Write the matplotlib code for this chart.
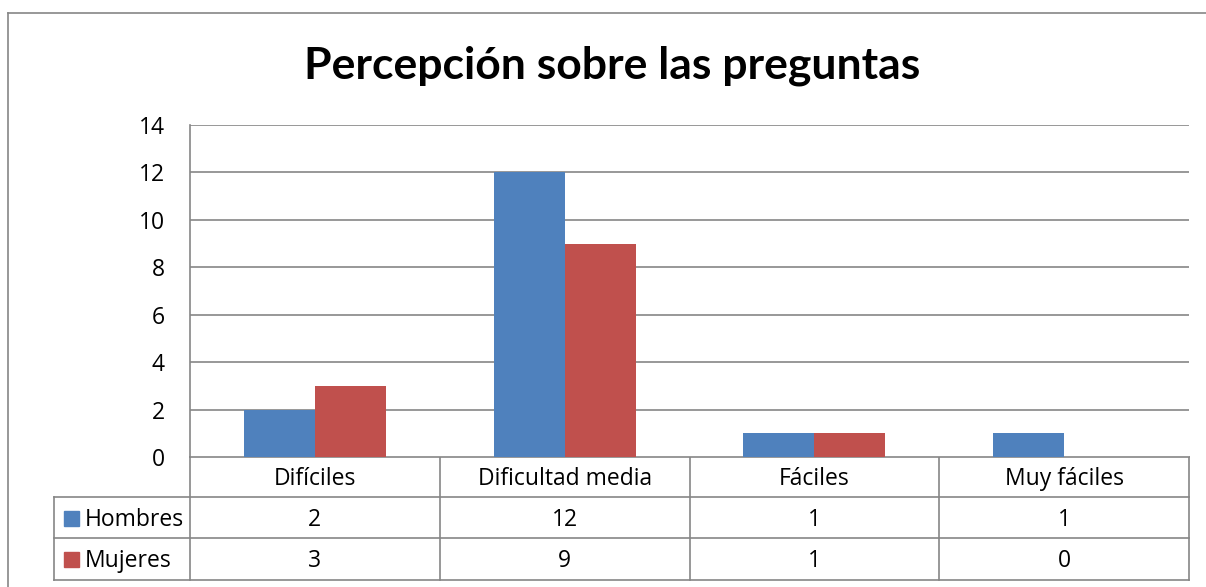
import matplotlib
matplotlib.use("Agg")
import matplotlib.pyplot as plt
from matplotlib.patches import Rectangle
import numpy as np

categories = ["Difíciles", "Dificultad media", "Fáciles", "Muy fáciles"]
series_names = ["Hombres", "Mujeres"]
hombres = [2, 12, 1, 1]
mujeres = [3, 9, 1, 0]
yticks = [0, 2, 4, 6, 8, 10, 12, 14]
title = "Percepción sobre las preguntas"

colors = ["#4F81BD", "#C0504D"]
grid_c = "#868686"
FONT = "Open Sans"
plt.rcParams["font.family"] = [FONT, "DejaVu Sans"]
FS = 16.5

W, H = 1206, 587
fig = plt.figure(figsize=(W / 100, H / 100), dpi=100)

# overlay axes in pixel coordinates for frame/table
ov = fig.add_axes([0, 0, 1, 1])
ov.set_xlim(0, W)
ov.set_ylim(H, 0)
ov.axis("off")

# outer chart border
ov.plot([8, 8], [13, H + 5], color=grid_c, lw=1.2)
ov.plot([8, W + 5], [13, 13], color=grid_c, lw=1.2)

# plot area
L, R, T, B = 190, 1189, 125, 457
ax = fig.add_axes([L / W, 1 - B / H, (R - L) / W, (B - T) / H])
n = len(categories)
x = np.arange(n)
bw = 0.284
ax.bar(x - bw / 2, hombres, width=bw, color=colors[0], zorder=3)
ax.bar(x + bw / 2, mujeres, width=bw, color=colors[1], zorder=3)
ax.set_xlim(-0.5, n - 0.5)
ax.set_ylim(0, 14)
ax.set_yticks(yticks)
ax.set_yticklabels([str(v) for v in yticks], fontsize=FS)
ax.tick_params(axis="y", length=0, pad=18)
ax.set_xticks([])
ax.grid(axis="y", color=grid_c, lw=1.2, zorder=0)
for s in ["top", "right", "bottom"]:
    ax.spines[s].set_visible(False)
ax.spines["left"].set_color(grid_c)
ax.spines["left"].set_linewidth(1.2)

ov.text(612, 66, title, fontsize=32, fontweight="bold", ha="center",
        va="center", family=["Lato", "DejaVu Sans"])

# data table
rows_y = [457, 497, 538, 580]
col_x = [L + (R - L) * i / n for i in range(n + 1)]
leg_left = 54
lc = dict(color=grid_c, lw=1.2)
for cx in col_x:
    ov.plot([cx, cx], [rows_y[0], rows_y[3]], **lc)
ov.plot([L, R], [rows_y[0], rows_y[0]], **lc)
for yy in rows_y[1:]:
    ov.plot([leg_left, R], [yy, yy], **lc)
ov.plot([leg_left, leg_left], [rows_y[1], rows_y[3]], **lc)

dy = 2
for i, c in enumerate(categories):
    xc = 0.5 * (col_x[i] + col_x[i + 1])
    ov.text(xc, 0.5 * (rows_y[0] + rows_y[1]) + dy, c, fontsize=FS, ha="center", va="center")
    ov.text(xc, 0.5 * (rows_y[1] + rows_y[2]) + dy, str(hombres[i]), fontsize=FS, ha="center", va="center")
    ov.text(xc, 0.5 * (rows_y[2] + rows_y[3]) + dy, str(mujeres[i]), fontsize=FS, ha="center", va="center")

for j, (name, col) in enumerate(zip(series_names, colors)):
    yc = 0.5 * (rows_y[j + 1] + rows_y[j + 2])
    ov.add_patch(Rectangle((64, yc - 7), 15, 15, color=col))
    ov.text(85, yc + dy, name, fontsize=FS, ha="left", va="center")

fig.savefig("out.png", dpi=100)
